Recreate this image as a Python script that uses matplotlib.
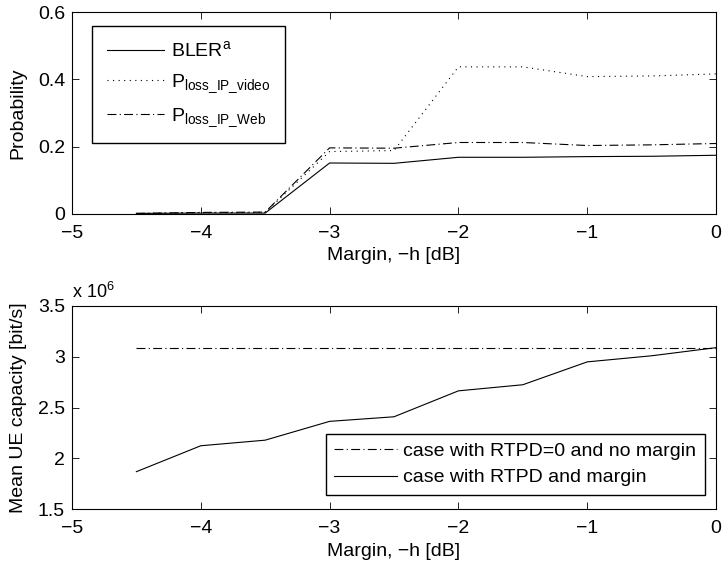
import matplotlib
matplotlib.use("Agg")
from matplotlib import pyplot as plt

plt.rcParams["font.family"] = ["Liberation Sans", "DejaVu Sans"]
plt.rcParams["font.size"] = 14
plt.rcParams["mathtext.fontset"] = "custom"
plt.rcParams["mathtext.rm"] = "Liberation Sans"
plt.rcParams["mathtext.it"] = "Liberation Sans:italic"
plt.rcParams["xtick.direction"] = "in"
plt.rcParams["ytick.direction"] = "in"

# Margin values (dB)
margin = [-4.5, -4, -3.5, -3, -2.5, -2, -1.5, -1, -0.5, 0]

# top panel: probabilities
bler = [0.001, 0.002, 0.002, 0.151, 0.150, 0.168, 0.168, 0.170, 0.171, 0.174]
p_video = [0.001, 0.003, 0.004, 0.185, 0.188, 0.437, 0.437, 0.408, 0.410, 0.416]
p_web = [0.001, 0.004, 0.005, 0.196, 0.195, 0.212, 0.212, 0.203, 0.205, 0.209]

# bottom panel: mean UE capacity (x 1e6 bit/s)
cap_ref = [3.09, 3.09, 3.09, 3.09, 3.09, 3.09, 3.09, 3.09, 3.09, 3.09]
cap_margin = [1.87, 2.125, 2.18, 2.365, 2.41, 2.665, 2.725, 2.95, 3.01, 3.09]

x_ticks = [-5, -4, -3, -2, -1, 0]
x_ticklabels = ["\u22125", "\u22124", "\u22123", "\u22122", "\u22121", "0"]

fig = plt.figure(figsize=(7.22, 5.64), dpi=100)
ax1 = fig.add_axes([0.0997, 0.621, 0.892, 0.3576])
ax2 = fig.add_axes([0.0997, 0.097, 0.892, 0.3605])

lw = 0.8
dashdot = (0, (8, 3, 1, 3))
ax1.plot(margin, bler, "k-", lw=lw, label="BLER$^{\\mathrm{a}}$")
ax1.plot(margin, p_video, "k", ls=(0, (1, 4)), lw=lw,
         label="P$_{\\mathrm{loss\\_IP\\_video}}$")
ax1.plot(margin, p_web, "k", ls=dashdot, lw=lw,
         label="P$_{\\mathrm{loss\\_IP\\_Web}}$")
ax1.set_xlim(-5, 0)
ax1.set_ylim(0, 0.6)
ax1.set_yticks([0, 0.2, 0.4, 0.6])
ax1.set_yticklabels(["0", "0.2", "0.4", "0.6"])
ax1.set_ylabel("Probability", labelpad=8)
ax1.legend(loc="upper left", bbox_to_anchor=(0.031, 0.932), borderaxespad=0,
           handlelength=2.95, handletextpad=0.35, fancybox=False,
           edgecolor="k", framealpha=1, borderpad=0.75, labelspacing=0.6,
           fontsize=14)

ax2.plot(margin, cap_ref, "k", ls=dashdot, lw=lw,
         label="case with RTPD=0 and no margin")
ax2.plot(margin, cap_margin, "k-", lw=lw, label="case with RTPD and margin")
ax2.set_xlim(-5, 0)
ax2.set_ylim(1.5, 3.5)
ax2.set_yticks([1.5, 2, 2.5, 3, 3.5])
ax2.set_yticklabels(["1.5", "2", "2.5", "3", "3.5"])
ax2.set_ylabel("Mean UE capacity [bit/s]", labelpad=8)
ax2.text(0, 1.04, "x 10$^{6}$", transform=ax2.transAxes, ha="left",
         va="baseline", fontsize=13)
ax2.legend(loc="lower right", bbox_to_anchor=(0.983, 0.07), borderaxespad=0,
           handlelength=3.2, handletextpad=0.35, fancybox=False,
           edgecolor="k", framealpha=1, borderpad=0.45, labelspacing=0.45,
           fontsize=14)

for ax in (ax1, ax2):
    ax.set_xticks(x_ticks)
    ax.set_xticklabels(x_ticklabels)
    ax.set_xlabel("Margin, \u2212h [dB]", labelpad=4)
    ax.tick_params(top=True, right=True, length=5, width=0.6, labelsize=14)
    ax.tick_params(axis="x", pad=8)
    ax.tick_params(axis="y", pad=5)
    for s in ax.spines.values():
        s.set_linewidth(0.8)

fig.savefig("out.png", dpi=100)
